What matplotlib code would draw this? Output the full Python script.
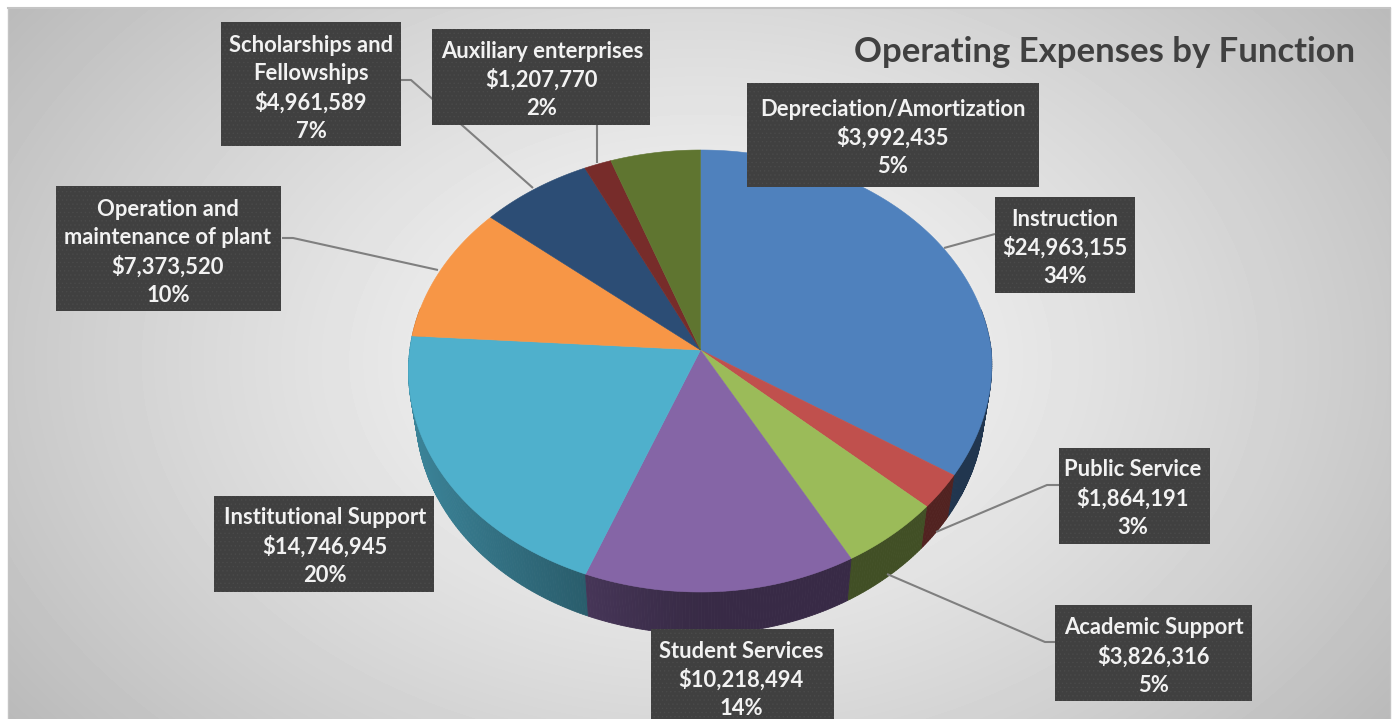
import numpy as np
import matplotlib
matplotlib.use("Agg")
import matplotlib.pyplot as plt
from matplotlib.patches import Polygon, Rectangle

categories = ["Instruction", "Public Service", "Academic Support", "Student Services",
              "Institutional Support", "Operation and\nmaintenance of plant",
              "Scholarships and\nFellowships", "Auxiliary enterprises",
              "Depreciation/Amortization"]
values = [24963155, 1864191, 3826316, 10218494, 14746945, 7373520, 4961589, 1207770, 3992435]
percents = ["34%", "3%", "5%", "14%", "20%", "10%", "7%", "2%", "5%"]
colors = ["#4F81BD", "#C0504D", "#9BBB59", "#8565A6", "#4FB0CC", "#F79646", "#2C4D75", "#772C2A", "#5F7530"]
title = "Operating Expenses by Function"

W, H = 1393, 719
plt.rcParams['font.family'] = ['Lato', 'DejaVu Sans']
plt.rcParams['hatch.linewidth'] = 0.5
fig = plt.figure(figsize=(W / 100, H / 100), dpi=100, facecolor="white")
ax = fig.add_axes([0, 0, 1, 1])
ax.set_xlim(0, W)
ax.set_ylim(H, 0)
ax.axis("off")

# background: radial gradient inside plot frame
fx0, fy0, fx1 = 8, 8, 1390
xx, yy = np.meshgrid(np.arange(fx0, fx1), np.arange(fy0, H))
d = np.hypot((xx - 700) / 800.0, (yy - 360) / 560.0)
g = np.clip(0.97 - 0.22 * d ** 1.3, 0, 1)
ax.imshow(g, cmap="gray", vmin=0, vmax=1, extent=(fx0, fx1, H, fy0), zorder=0, aspect="auto")
ax.set_xlim(0, W)
ax.set_ylim(H, 0)
ax.plot([fx0, fx1], [fy0, fy0], color="#c4c4c4", lw=1.5, zorder=1)
ax.plot([fx0, fx0], [fy0, H], color="#c4c4c4", lw=1.0, zorder=1)
ax.plot([fx1, fx1], [fy0, H], color="#c4c4c4", lw=1.0, zorder=1)

# perspective projection of the unit disc onto the page
CX, CY, RX, RY, B, DEPTH, SHRINK = 700.5, 350.0, 290.7, 219.0, 0.095, 42.0, 0.975


def project(theta):
    """theta: clockwise angle from 12 o'clock (radians)."""
    u, v = np.sin(theta), np.cos(theta)
    k = 1.0 + B * v
    skew = 9.0 * np.clip(u, 0, None) * np.clip(-v, 0, None)
    return CX + RX * u / k - skew, CY - RY * v / k


fracs = np.array(values, dtype=float) / np.sum(values)
edges = np.concatenate([[0.0], np.cumsum(fracs)]) * 2 * np.pi

# side wall
segs = []
for i, col in enumerate(colors):
    n = max(int((edges[i + 1] - edges[i]) / 0.01), 2)
    th = np.linspace(edges[i], edges[i + 1], n + 1)
    x, y = project(th)
    for j in range(n):
        segs.append(((y[j] + y[j + 1]) / 2, i, x[j], y[j], x[j + 1], y[j + 1]))
segs.sort(key=lambda s: s[0])
for _, i, x0, y0, x1, y1 in segs:
    if y0 < CY - 40 and y1 < CY - 40:
        continue
    frac = np.clip((CX - (x0 + x1) / 2) / 290.0, 0, 1)
    f = 0.42 + 0.33 * frac ** 1.2
    c = np.array(matplotlib.colors.to_rgb(colors[i])) * f
    bx0 = CX + (x0 - CX) * SHRINK
    bx1 = CX + (x1 - CX) * SHRINK
    ax.add_patch(Polygon([(x0, y0), (x1, y1), (bx1, y1 + DEPTH), (bx0, y0 + DEPTH)],
                         closed=True, fc=c, ec=c, lw=0.6, zorder=2))

# top surface
for i, col in enumerate(colors):
    th = np.linspace(edges[i], edges[i + 1], 200)
    x, y = project(th)
    pts = np.column_stack([np.r_[CX, x], np.r_[CY, y]])
    ax.add_patch(Polygon(pts, closed=True, fc=col, ec=col, lw=0.4, zorder=3))

# leader lines
leaders = [
    [(995, 234), (944, 248)],
    [(1059, 485), (1047, 485), (936, 532)],
    [(1055, 642), (1045, 642), (887, 574)],
    [(282, 238), (293, 238), (438, 270)],
    [(401, 80), (411, 80), (533, 188)],
    [(597, 125), (597, 163)],
]
for pts in leaders:
    p = np.array(pts)
    ax.plot(p[:, 0], p[:, 1], color="#7f7f7f", lw=1.5, zorder=4, solid_capstyle="butt")

# label boxes: x0, x1, y0, y1, text centre x, first-line y
boxes = [
    (995, 1135, 197, 293, 1065, 219),
    (1059, 1210, 448, 544, 1133, 470),
    (1055, 1252, 605, 701, 1154, 628),
    (651, 834, 629, 725, 741, 651),
    (214, 434, 496, 592, 325, 518),
    (56, 281, 186, 311, 168, 209),
    (221, 401, 22, 146, 311, 45),
    (432, 650, 29, 125, 542, 51),
    (747, 1039, 83, 187, 893, 109),
]
LINE = 28.8
for i, (x0, x1, y0, y1, tx, ty) in enumerate(boxes):
    ax.add_patch(Rectangle((x0, y0), x1 - x0, y1 - y0, fc="#404040", ec="#4a4a4a",
                           hatch="....", lw=0, zorder=5))
    lines = categories[i].split("\n") + ["${:,}".format(values[i]), percents[i]]
    for k, s in enumerate(lines):
        ax.text(tx, ty + k * LINE, s, color="#f2f2f2", fontsize=15.8, fontweight="bold",
                ha="center", va="center", zorder=6)

ax.text(1355, 52, title, color="#404040", fontsize=24.9, fontweight="bold",
        ha="right", va="center", zorder=6)

fig.savefig("out.png", dpi=100, facecolor="white")
